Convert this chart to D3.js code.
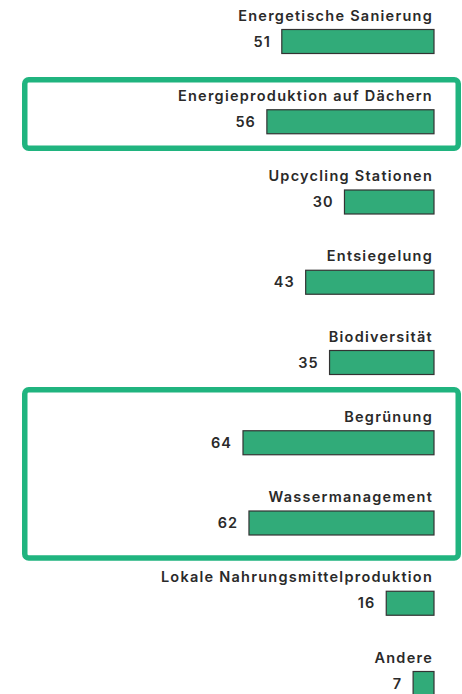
<!DOCTYPE html>
<html>
<head>
<meta charset="utf-8">
<script src="https://cdn.jsdelivr.net/npm/d3@7/dist/d3.min.js"></script>
<style>
  html, body { margin: 0; padding: 0; background: #ffffff; }
  svg { display: block; }
</style>
</head>
<body>
<svg id="chart" width="462" height="694"></svg>
<script>
const categories = [
  "Energetische Sanierung",
  "Energieproduktion auf Dächern",
  "Upcycling Stationen",
  "Entsiegelung",
  "Biodiversität",
  "Begrünung",
  "Wassermanagement",
  "Lokale Nahrungsmittelproduktion",
  "Andere"
];
const values = [51, 56, 30, 43, 35, 64, 62, 16, 7];
const highlightGroups = [
  ["Energieproduktion auf Dächern"],
  ["Begrünung", "Wassermanagement"]
];

const svg = d3.select("#chart");
const barRight = 434;
const rowStep = 80.25;

const x = d3.scaleLinear().domain([0, 64]).range([0, 191]);
const y = d3.scaleBand()
  .domain(categories)
  .range([0, rowStep * categories.length])
  .paddingInner(0).paddingOuter(0);

const barOffset = 29.5, barH = 24;
const fontFamily = "Inter, 'Noto Sans', sans-serif";
const boxPad = [{ top: 0.5, bottom: 14.5 }, { top: 11.5, bottom: 23 }];

// highlight boxes
highlightGroups.forEach((g, i) => {
  const top = d3.min(g, c => y(c)) - boxPad[i].top;
  const bot = d3.max(g, c => y(c)) + barOffset + barH + boxPad[i].bottom;
  svg.append("rect")
    .attr("x", 24.75).attr("y", top)
    .attr("width", 433.5).attr("height", bot - top)
    .attr("rx", 4)
    .attr("fill", "none")
    .attr("stroke", "#20b47f")
    .attr("stroke-width", 5.5);
});

const rows = svg.selectAll("g.row")
  .data(categories.map((c, i) => ({ c, v: values[i] })))
  .join("g").attr("class", "row")
  .attr("transform", d => `translate(0,${y(d.c)})`);

rows.append("rect")
  .attr("x", d => barRight - x(d.v))
  .attr("y", barOffset)
  .attr("width", d => x(d.v))
  .attr("height", barH)
  .attr("fill", "#31ab79")
  .attr("stroke", "#333333")
  .attr("stroke-width", 1.2);

rows.append("text")
  .attr("x", barRight - 1)
  .attr("y", 20.5)
  .attr("text-anchor", "end")
  .attr("font-family", fontFamily)
  .attr("font-weight", 600)
  .attr("font-size", 14.5)
  .attr("letter-spacing", "1.25px")
  .attr("fill", "#2a2a2a")
  .text(d => d.c);

rows.append("text")
  .attr("x", d => barRight - x(d.v) - 11)
  .attr("y", barOffset + barH / 2 + 5)
  .attr("text-anchor", "end")
  .attr("font-family", fontFamily)
  .attr("font-weight", 600)
  .attr("font-size", 14.5)
  .attr("letter-spacing", "1px")
  .attr("fill", "#2a2a2a")
  .text(d => d.v);
</script>
</body>
</html>
